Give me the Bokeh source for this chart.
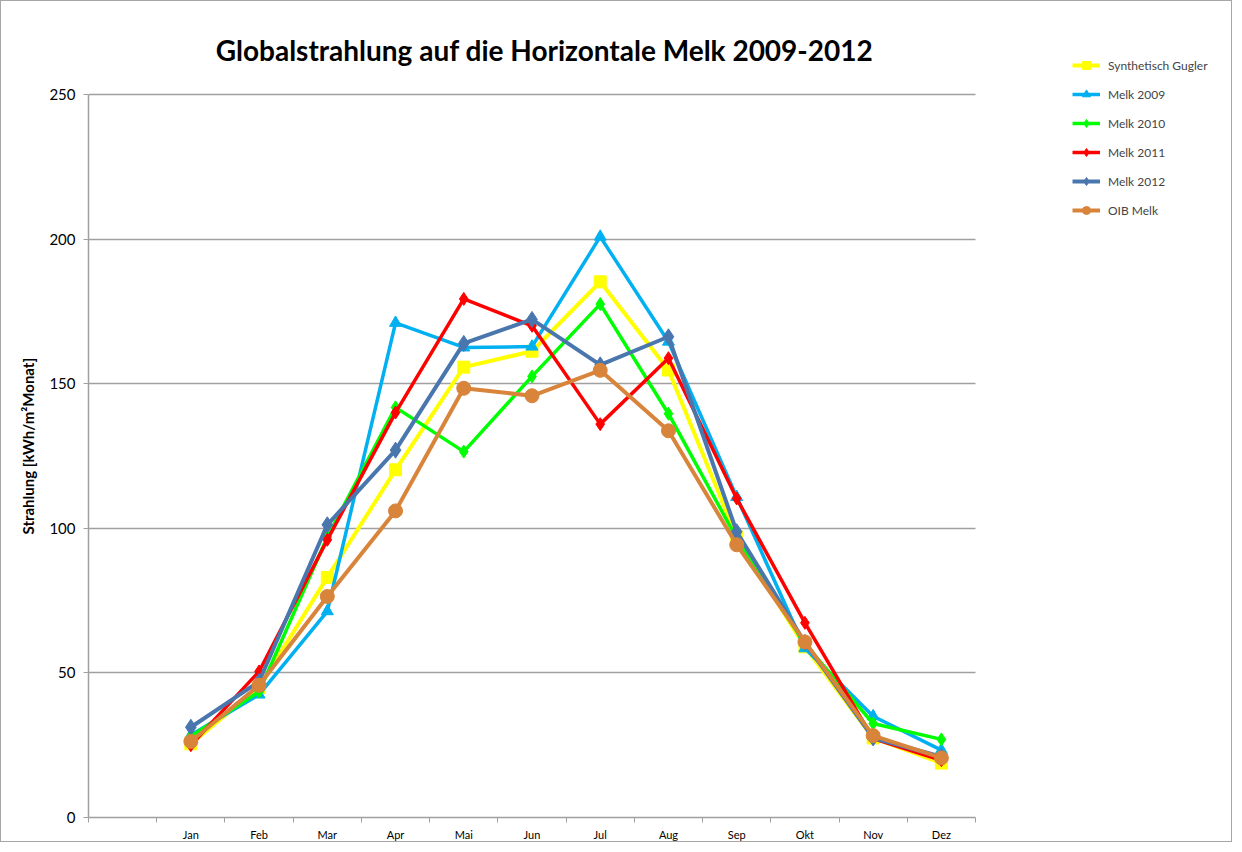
from bokeh.plotting import figure
from bokeh.models import Range1d, FixedTicker, Legend, LegendItem, Label, Title
from bokeh.embed import file_html
from bokeh.resources import INLINE

months = ["Jan", "Feb", "Mar", "Apr", "Mai", "Jun", "Jul", "Aug", "Sep", "Okt", "Nov", "Dez"]

synth_gugler = [25.5, 45.0, 83.0, 120.2, 155.7, 161.2, 185.2, 154.7, 97.0, 59.0, 27.5, 18.8]
melk_2009 = [28.5, 42.5, 71.3, 171.0, 162.5, 162.8, 200.8, 164.5, 110.8, 58.5, 35.0, 23.3]
melk_2010 = [28.0, 43.5, 97.0, 141.8, 126.5, 152.5, 177.5, 139.6, 96.5, 60.0, 32.5, 27.0]
melk_2011 = [25.0, 50.5, 96.0, 140.0, 179.3, 170.0, 136.0, 158.8, 110.3, 67.3, 27.3, 19.8]
melk_2012 = [31.2, 47.0, 101.2, 127.0, 163.9, 172.2, 156.5, 166.2, 98.8, 60.5, 27.5, 21.0]
oib_melk = [26.3, 45.7, 76.4, 106.0, 148.4, 145.8, 154.6, 133.7, 94.3, 60.7, 28.3, 20.6]

series = [
    ("Synthetisch Gugler", synth_gugler, "#FFFF00", "square", 12, 4),
    ("Melk 2009", melk_2009, "#00B0F0", "triangle", 12, 3.5),
    ("Melk 2010", melk_2010, "#00FF00", "diamond", 13, 3.5),
    ("Melk 2011", melk_2011, "#FF0000", "diamond", 13, 3.5),
    ("Melk 2012", melk_2012, "#4A76AE", "diamond", 16, 4),
    ("OIB Melk", oib_melk, "#D9843B", "circle", 14, 4),
]

FONT = "Lato"
n_slots = len(months) + 1          # one empty category before "Jan"
y_max = 250
x = [i + 1.5 for i in range(len(months))]

# layout in pixels (picture coordinates)
W, H = 1232, 842
left, bottom = 87, 25
axis_w, axis_h = 887, 724          # visible axis extents
frame_w = W - left
frame_h = H - bottom
x_end = n_slots * frame_w / axis_w
y_end = y_max * frame_h / axis_h

p = figure(width=W, height=H, output_backend="svg", toolbar_location=None,
           x_range=Range1d(0, x_end), y_range=Range1d(0, y_end),
           min_border_left=left, min_border_top=0, min_border_right=0,
           min_border_bottom=bottom)
p.styles = {"border": "1px solid #A6A6A6"}
p.outline_line_color = None
p.background_fill_color = "white"
p.border_fill_color = "white"

p.xgrid.visible = False
p.ygrid.grid_line_color = "#A0A0A0"
p.ygrid.grid_line_width = 1.3
p.ygrid.cross_bounds = (0, n_slots)
p.yaxis.ticker = FixedTicker(ticks=list(range(0, y_max + 1, 50)))
p.yaxis.bounds = (0, y_max)

p.xaxis.bounds = (0, n_slots)
p.xaxis.ticker = FixedTicker(ticks=x, minor_ticks=list(range(0, n_slots + 1)))
p.xaxis.major_label_overrides = {xi: m for xi, m in zip(x, months)}
p.xaxis.major_tick_out = 0
p.xaxis.major_tick_in = 0
p.xaxis.minor_tick_out = 5
p.xaxis.minor_tick_in = 0
p.xaxis.major_label_standoff = 5
p.xaxis.major_label_text_font = FONT
p.xaxis.major_label_text_font_size = "11px"

p.yaxis.major_tick_out = 5
p.yaxis.major_tick_in = 0
p.yaxis.major_label_standoff = 8
p.yaxis.major_label_text_font = FONT
p.yaxis.major_label_text_font_size = "15px"

for ax in (p.xaxis, p.yaxis):
    ax.axis_line_color = "#A0A0A0"
    ax.axis_line_width = 1.5
    ax.major_tick_line_color = "#A0A0A0"
    ax.minor_tick_line_color = "#A0A0A0"
    ax.major_label_text_color = "black"
p.yaxis.minor_tick_line_color = None

# y-axis title, placed in the left panel (reads bottom to top)
ytitle = Title(text="Strahlung [kWh/m²Monat]", align="left", offset=283,
               vertical_align="middle", standoff=18,
               text_font=FONT, text_font_style="bold", text_font_size="15px",
               text_color="black")
p.add_layout(ytitle, "left")

items = []
for name, vals, color, marker, size, lw in series:
    r1 = p.line(x, vals, line_color=color, line_width=lw)
    r2 = p.scatter(x, vals, marker=marker, size=size, fill_color=color, line_color=color)
    items.append(LegendItem(label=name, renderers=[r1, r2]))

title = Label(x=456, y=768, x_units="screen", y_units="screen",
              text="Globalstrahlung auf die Horizontale Melk 2009-2012",
              text_font=FONT, text_font_style="bold", text_font_size="28px",
              text_align="center", text_baseline="middle", text_color="black")
p.add_layout(title)

legend = Legend(items=items, location=(984, 597), border_line_color=None,
                background_fill_alpha=0, glyph_width=28, glyph_height=20,
                label_height=20, spacing=9, label_standoff=8,
                label_text_font=FONT, label_text_font_size="12px", padding=0, margin=0)
p.add_layout(legend, "center")

open("out.html", "w").write(file_html(p, INLINE))
